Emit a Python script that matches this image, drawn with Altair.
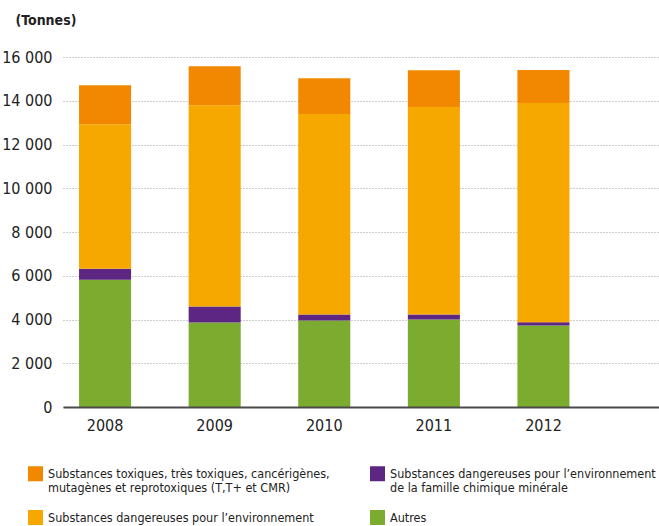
import altair as alt
import pandas as pd

years = ["2008", "2009", "2010", "2011", "2012"]
autres = [5820, 3860, 3950, 4000, 3730]
minerale = [500, 730, 280, 230, 140]
environnement = [6610, 9210, 9160, 9480, 10030]
toxiques = [1780, 1780, 1640, 1690, 1510]

cat_tox = "Substances toxiques, très toxiques, cancérigènes,|mutagènes et reprotoxiques (T,T+ et CMR)"
cat_min = "Substances dangereuses pour l’environnement|de la famille chimique minérale"
cat_env = "Substances dangereuses pour l’environnement"
cat_aut = "Autres"

legend_order = [cat_tox, cat_env, cat_min, cat_aut]
colors = ["#F18800", "#F6A800", "#5C2682", "#7BAB2F"]
stack_rank = {cat_aut: 0, cat_min: 1, cat_env: 2, cat_tox: 3}

rows = []
for i, y in enumerate(years):
    for cat, vals in [(cat_aut, autres), (cat_min, minerale), (cat_env, environnement), (cat_tox, toxiques)]:
        rows.append({"year": y, "cat": cat, "value": vals[i], "rank": stack_rank[cat]})
df = pd.DataFrame(rows)

FONT = "Liberation Sans Narrow, DejaVu Sans Condensed, sans-serif"

chart = alt.Chart(df).mark_bar().encode(
    x=alt.X("year:N", title=None,
            scale=alt.Scale(paddingInner=0.525, paddingOuter=0.4815, align=0.152),
            axis=alt.Axis(labelAngle=0, ticks=False, domain=True, domainColor="#4a4a4a",
                          domainWidth=2, labelPadding=10, labelFontSize=16, labelFont=FONT,
                          labelColor="#222222", zindex=1, grid=False)),
    y=alt.Y("value:Q", stack="zero", title="(Tonnes)",
            scale=alt.Scale(domain=[0, 16000], nice=False),
            axis=alt.Axis(values=list(range(0, 16001, 2000)),
                          labelExpr="replace(format(datum.value, ','), ',', ' ')",
                          ticks=False, domain=False, labelPadding=11, labelFontSize=16,
                          labelFont=FONT, labelColor="#222222",
                          grid=True, gridDash=[1, 2], gridColor="#9a9a9a", gridWidth=1,
                          titleAngle=0, titleX=-48, titleY=-33, titleAlign="left",
                          titleBaseline="alphabetic", titleFont=FONT, titleFontSize=14,
                          titleFontWeight="bold", titleColor="#222222")),
    color=alt.Color("cat:N", scale=alt.Scale(domain=legend_order, range=colors),
                    legend=alt.Legend(title=None, orient="none", legendX=-35, legendY=409,
                                      columns=2, columnPadding=40, rowPadding=15,
                                      symbolType="square", symbolSize=225,
                                      symbolStrokeWidth=0, symbolOpacity=1,
                                      labelExpr="split(datum.label, '|')",
                                      labelFont=FONT, labelFontSize=12.5, labelColor="#222222",
                                      labelLimit=500, labelOffset=5)),
    order=alt.Order("rank:Q"),
).properties(
    width=596, height=350,
    autosize=alt.AutoSizeParams(type="none"),
    padding={"left": 63, "top": 57, "right": 0, "bottom": 119},
).configure_view(stroke=None)

chart.save("out.html", embed_options={"renderer": "svg", "actions": False})
